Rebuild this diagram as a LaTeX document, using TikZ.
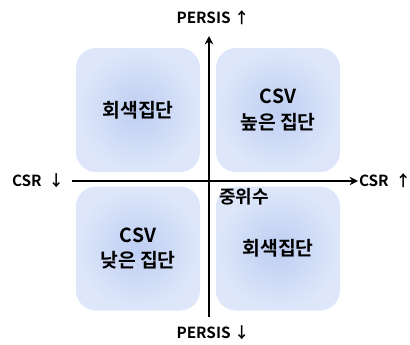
\documentclass[tikz,border=0pt]{standalone}
\usepackage{fontspec}
\setmainfont{Noto Sans CJK KR}[BoldFont={Noto Sans CJK KR Bold}]
\usetikzlibrary{arrows.meta}
\definecolor{quadin}{RGB}{190,206,242}
\definecolor{quadout}{RGB}{222,231,250}

\begin{document}
\begin{tikzpicture}[x=0.75pt, y=-0.75pt, every node/.style={font=\bfseries}, >={Stealth[length=2.2mm, width=2.2mm]},
	quad/.style={shade, inner color=quadin, outer color=quadout, rounded corners=15pt, minimum width=93pt, minimum height=93pt, align=center, font=\bfseries\fontsize{14.5}{19}\selectfont},
	axlab/.style={font=\bfseries\fontsize{11.5}{13}\selectfont, inner sep=1pt}]
	\useasboundingbox (0,0) rectangle (410,344);
	% quadrants
	\node[quad] (tl) at (138,110) {회색집단};
	\node[quad] (tr) at (278,110) {CSV\\높은 집단};
	\node[quad] (bl) at (138,248.5) {CSV\\낮은 집단};
	\node[quad] (br) at (278,248.5) {회색집단};
	% axes
	\coordinate (yb) at (209,317);
	\coordinate (yt) at (209,36);
	\coordinate (xl) at (72,181);
	\coordinate (xr) at (358,181);
	\draw[->, line width=1.5pt] (yb) -- (yt);
	\draw[->, line width=1.5pt] (xl) -- (xr);
	\node[axlab] (ptop) at (213,18) {PERSIS ↑};
	\node[axlab] (pbot) at (213,333) {PERSIS ↓};
	\node[axlab] (cleft) at (38,181) {CSR \ ↓};
	\node[axlab] (cright) at (385,181) {CSR \ ↑};
	\node[font=\bfseries\fontsize{13.5}{15}\selectfont] (med) at (244,197) {중위수};
\end{tikzpicture}
\end{document}
